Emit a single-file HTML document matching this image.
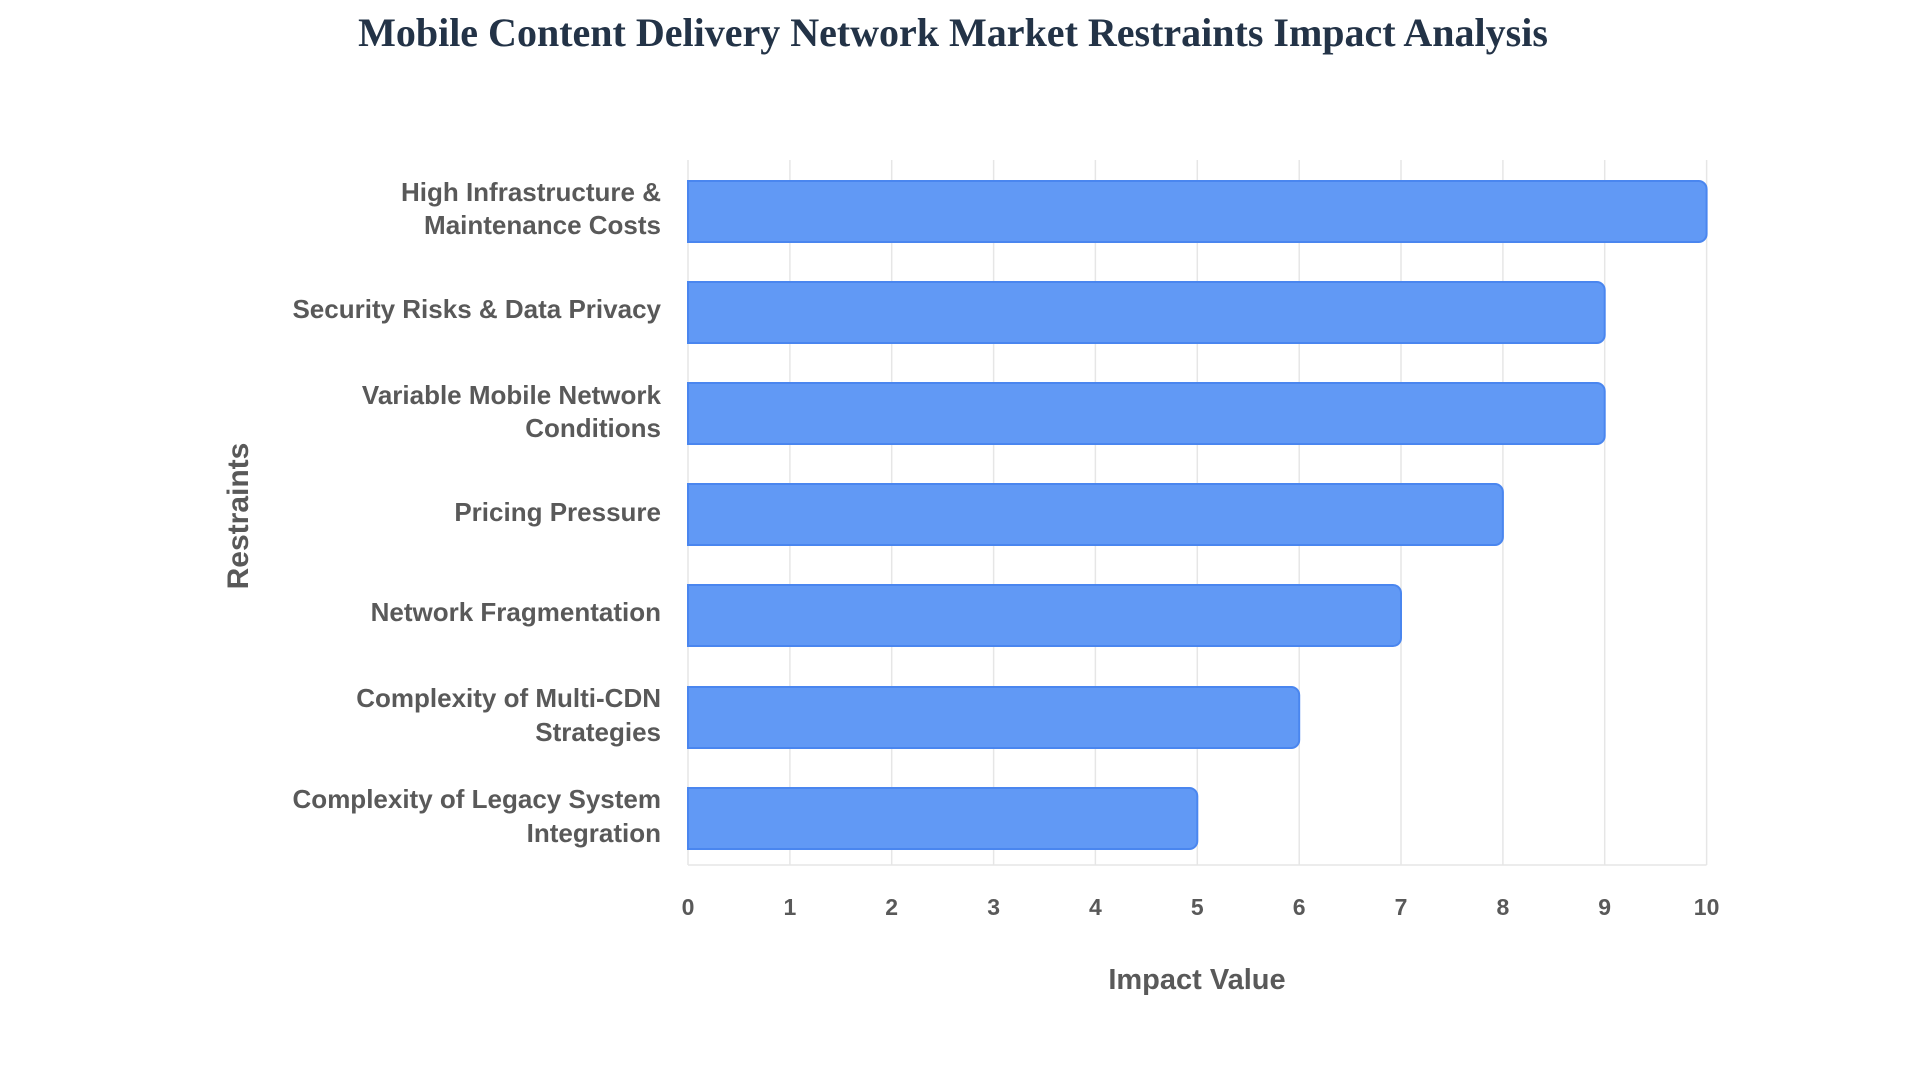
<!DOCTYPE html>
<html><head><style>
body{margin:0;width:1920px;height:1080px;background:#fff;overflow:hidden}
</style></head><body>
<svg width="1920" height="1080" xmlns="http://www.w3.org/2000/svg">
<text x="953" y="46" text-anchor="middle" font-family="Liberation Serif, serif" font-weight="bold" font-size="40" fill="#233347">Mobile Content Delivery Network Market Restraints Impact Analysis</text>
<g stroke="#e6e6e6" stroke-width="1.5">
<line x1="789.9" y1="160" x2="789.9" y2="865"/><line x1="891.7" y1="160" x2="891.7" y2="865"/><line x1="993.6" y1="160" x2="993.6" y2="865"/><line x1="1095.4" y1="160" x2="1095.4" y2="865"/><line x1="1197.3" y1="160" x2="1197.3" y2="865"/><line x1="1299.2" y1="160" x2="1299.2" y2="865"/><line x1="1401" y1="160" x2="1401" y2="865"/><line x1="1502.9" y1="160" x2="1502.9" y2="865"/><line x1="1604.7" y1="160" x2="1604.7" y2="865"/><line x1="1706.6" y1="160" x2="1706.6" y2="865"/>
<line x1="688" y1="160" x2="688" y2="865"/><line x1="688" y1="865" x2="1706.6" y2="865"/>
</g>
<g fill="#6199f5" stroke="#4a86ef" stroke-width="2">
<path d="M688 181 H1698.6 a8 8 0 0 1 8 8 V234 a8 8 0 0 1 -8 8 H688 Z"/>
<path d="M688 282 H1596.7 a8 8 0 0 1 8 8 V335 a8 8 0 0 1 -8 8 H688 Z"/>
<path d="M688 383 H1596.7 a8 8 0 0 1 8 8 V436 a8 8 0 0 1 -8 8 H688 Z"/>
<path d="M688 484 H1494.9 a8 8 0 0 1 8 8 V537 a8 8 0 0 1 -8 8 H688 Z"/>
<path d="M688 585 H1393 a8 8 0 0 1 8 8 V638 a8 8 0 0 1 -8 8 H688 Z"/>
<path d="M688 687 H1291.2 a8 8 0 0 1 8 8 V740 a8 8 0 0 1 -8 8 H688 Z"/>
<path d="M688 788 H1189.3 a8 8 0 0 1 8 8 V841 a8 8 0 0 1 -8 8 H688 Z"/>
</g>
<g font-family="Liberation Sans, sans-serif" font-weight="bold" font-size="26" fill="#595959" text-anchor="end">
<text x="661" y="201">High Infrastructure &amp;</text><text x="661" y="234">Maintenance Costs</text>
<text x="661" y="318">Security Risks &amp; Data Privacy</text>
<text x="661" y="404">Variable Mobile Network</text><text x="661" y="437">Conditions</text>
<text x="661" y="521">Pricing Pressure</text>
<text x="661" y="621">Network Fragmentation</text>
<text x="661" y="707">Complexity of Multi-CDN</text><text x="661" y="741">Strategies</text>
<text x="661" y="808">Complexity of Legacy System</text><text x="661" y="842">Integration</text>
</g>
<g font-family="Liberation Sans, sans-serif" font-weight="bold" font-size="23" fill="#595959" text-anchor="middle">
<text x="688" y="915">0</text><text x="789.9" y="915">1</text><text x="891.7" y="915">2</text><text x="993.6" y="915">3</text><text x="1095.4" y="915">4</text><text x="1197.3" y="915">5</text><text x="1299.2" y="915">6</text><text x="1401" y="915">7</text><text x="1502.9" y="915">8</text><text x="1604.7" y="915">9</text><text x="1706.6" y="915">10</text>
<text x="1197" y="989" font-size="29">Impact Value</text>
<text transform="translate(248,516) rotate(-90)" font-size="30">Restraints</text>
</g>
</svg>
</body></html>
